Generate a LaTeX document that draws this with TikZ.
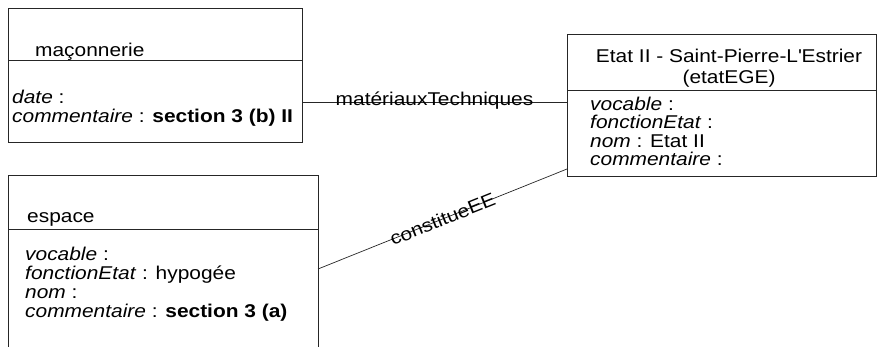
\documentclass[tikz,border=0pt]{standalone}
\usepackage{fontspec}
\setmainfont{Liberation Sans}[FakeStretch=1.13]
\begin{document}
\begin{tikzpicture}[x=1pt,y=-1pt,
  box/.style={draw=black!85,line width=0.8pt},
  attr/.style={anchor=base west,inner sep=0pt,font=\fontsize{18.5}{19}\selectfont},
  lnk/.style={draw=black!85,line width=0.7pt},
  lbl/.style={inner sep=0pt,font=\fontsize{18.5}{19}\selectfont}]
\useasboundingbox (0,0) rectangle (877,346);
\clip (0,0) rectangle (877,346);
% maconnerie
\draw[box] (8,8) rectangle (302,142);
\draw[box] (8,60) -- (302,60);
\node[attr] (macT) at (35,56) {maçonnerie};
\node[attr] (mac1) at (12,103) {\textit{date} :};
\node[attr] (mac2) at (12,122) {\textit{commentaire} : \textbf{section 3 (b) II}};
% espace
\draw[box] (8,350) -- (8,175) -- (318,175) -- (318,350);
\draw[box] (8,229) -- (318,229);
\node[attr] (espT) at (27,222) {espace};
\node[attr] (esp1) at (25,260) {\textit{vocable} :};
\node[attr] (esp2) at (25,279) {\textit{fonctionEtat} : hypogée};
\node[attr] (esp3) at (25,298) {\textit{nom} :};
\node[attr] (esp4) at (25,317) {\textit{commentaire} : \textbf{section 3 (a)}};
% etat
\draw[box] (567,34) rectangle (876.5,176);
\draw[box] (567,90) -- (876.5,90);
\node[attr,anchor=base] (etT) at (729,62) {Etat II - Saint-Pierre-L\textquotesingle Estrier};
\node[attr,anchor=base] (etT2) at (729,83) {(etatEGE)};
\node[attr] (et1) at (590,110) {\textit{vocable} :};
\node[attr] (et2) at (590,128.5) {\textit{fonctionEtat} :};
\node[attr] (et3) at (590,147) {\textit{nom} : Etat II};
\node[attr] (et4) at (590,165.5) {\textit{commentaire} :};
% connectors
\coordinate (a1) at (302,102);
\coordinate (a2) at (567,102);
\coordinate (b1) at (318,269);
\coordinate (b2) at (567,169);
\draw[lnk] (a1) -- node[lbl,anchor=center,yshift=1pt] (l1) {matériauxTechniques} (a2);
\draw[lnk] (b1) -- node[lbl,sloped,anchor=center] (l2) {constitueEE} (b2);
\end{tikzpicture}
\end{document}
